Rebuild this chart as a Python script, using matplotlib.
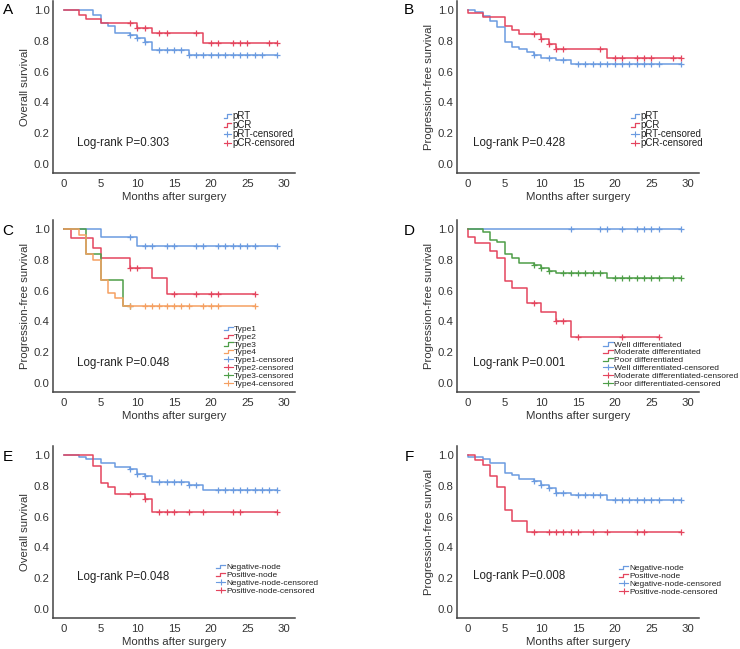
import numpy as np
import matplotlib
matplotlib.use("Agg")
import matplotlib.pyplot as plt
from matplotlib.lines import Line2D
from matplotlib.legend_handler import HandlerBase

plt.rcParams['font.family'] = ['Liberation Sans', 'DejaVu Sans']

# ---- data: step times, survival, last follow-up, censor times ----
# A  overall survival, pRT vs pCR
a_prt_t = [0, 4, 5, 6, 7, 9, 10, 11, 12, 17]
a_prt_s = [1.0, 0.972, 0.914, 0.897, 0.854, 0.839, 0.82, 0.79, 0.738, 0.71]
a_prt_c = [9, 10, 11, 13, 14, 15, 16, 17, 18, 19, 20, 21, 22, 23, 24, 25, 26, 27, 29]
a_pcr_t = [0, 2, 3, 5, 10, 12, 19]
a_pcr_s = [1.0, 0.972, 0.94, 0.914, 0.882, 0.849, 0.785]
a_pcr_c = [9, 10, 11, 13, 14, 18, 20, 21, 23, 24, 25, 28, 29]

# B  progression-free survival, pRT vs pCR
b_prt_t = [0, 1, 2, 3, 4, 5, 6, 7, 8, 9, 10, 12, 14]
b_prt_s = [1.0, 0.986, 0.96, 0.93, 0.89, 0.79, 0.76, 0.75, 0.73, 0.706, 0.69, 0.673, 0.647]
b_prt_c = [9, 11, 13, 15, 16, 17, 18, 19, 20, 21, 22, 23, 24, 25, 26, 29]
b_pcr_t = [0, 0, 2, 5, 6, 7, 10, 11, 12, 19]
b_pcr_s = [1.0, 0.98, 0.958, 0.90, 0.87, 0.847, 0.815, 0.78, 0.75, 0.686]
b_pcr_c = [9, 10, 11, 12, 13, 18, 20, 21, 23, 24, 25, 28, 29]

# C  PFS by type
c_t1_t = [0, 5, 10]
c_t1_s = [1.0, 0.95, 0.89]
c_t1_c = [9, 11, 12, 14, 15, 18, 19, 21, 22, 23, 24, 25, 26, 29]
c_t2_t = [0, 1, 4, 5, 9, 12, 14]
c_t2_s = [1.0, 0.94, 0.876, 0.815, 0.75, 0.68, 0.58]
c_t2_c = [9, 10, 15, 18, 20, 21, 26]
c_t3_t = [0, 3, 5, 8]
c_t3_s = [1.0, 0.837, 0.667, 0.5]
c_t3_c = [9]
c_t4_t = [0, 2, 3, 4, 5, 6, 7, 8]
c_t4_s = [1.0, 0.96, 0.837, 0.8, 0.667, 0.587, 0.55, 0.5]
c_t4_c = [9, 11, 12, 13, 14, 15, 16, 17, 19, 20, 21, 26]

# D  PFS by differentiation
d_well_t = [0]
d_well_s = [1.0]
d_well_c = [14, 18, 19, 21, 23, 24, 25, 26, 29]
d_mod_t = [0, 0, 1, 3, 4, 5, 6, 8, 10, 12, 14]
d_mod_s = [1.0, 0.95, 0.91, 0.86, 0.81, 0.665, 0.617, 0.52, 0.46, 0.405, 0.30]
d_mod_c = [9, 12, 13, 15, 21, 26]
d_poor_t = [0, 2, 3, 4, 5, 6, 7, 9, 10, 11, 12, 19]
d_poor_s = [1.0, 0.98, 0.93, 0.915, 0.84, 0.81, 0.78, 0.77, 0.75, 0.73, 0.714, 0.68]
d_poor_c = [9, 10, 11, 13, 14, 15, 16, 17, 18, 20, 21, 22, 23, 24, 25, 26, 28, 29]

# E  OS by node status
e_neg_t = [0, 2, 3, 5, 7, 9, 10, 11, 12, 17, 19]
e_neg_s = [1.0, 0.99, 0.978, 0.948, 0.92, 0.909, 0.876, 0.863, 0.828, 0.806, 0.774]
e_neg_c = [9, 10, 11, 13, 14, 15, 16, 17, 18, 21, 22, 23, 24, 25, 26, 27, 28, 29]
e_pos_t = [0, 4, 5, 6, 7, 11, 12]
e_pos_s = [1.0, 0.93, 0.817, 0.79, 0.75, 0.713, 0.633]
e_pos_c = [9, 11, 13, 14, 15, 17, 19, 23, 24, 29]

# F  PFS by node status
f_neg_t = [0, 0, 2, 3, 5, 6, 7, 9, 10, 11, 12, 14, 19]
f_neg_s = [1.0, 0.99, 0.978, 0.952, 0.887, 0.874, 0.843, 0.83, 0.804, 0.787, 0.754, 0.739, 0.707]
f_neg_c = [9, 10, 11, 12, 13, 15, 16, 17, 18, 20, 21, 22, 23, 24, 25, 26, 28, 29]
f_pos_t = [0, 1, 2, 3, 4, 5, 6, 8]
f_pos_s = [1.0, 0.967, 0.935, 0.865, 0.79, 0.645, 0.572, 0.5]
f_pos_c = [9, 11, 12, 13, 14, 15, 17, 19, 23, 24, 29]

p_values = ['0.303', '0.428', '0.048', '0.001', '0.048', '0.008']
panel_tags = ['A', 'B', 'C', 'D', 'E', 'F']
y_titles = ['Overall survival', 'Progression-free survival', 'Progression-free survival',
            'Progression-free survival', 'Overall survival', 'Progression-free survival']
x_title = 'Months after surgery'

BLUE = '#6b9be0'
RED = '#e4455e'
GREEN = '#4e9e48'
ORANGE = '#f5a062'


# little step icon for the legend, like the SPSS output
class StepHandler(HandlerBase):
    def create_artists(self, legend, orig_handle, xdescent, ydescent, width, height, fontsize, trans):
        x0 = -xdescent
        xs = [x0, x0 + width * 0.45, x0 + width * 0.45, x0 + width]
        y0 = -ydescent + height * 0.15
        y1 = -ydescent + height * 0.7
        ln = Line2D(xs, [y0, y0, y1, y1], color=orig_handle.get_color(), lw=0.9)
        ln.set_transform(trans)
        return [ln]


def surv_at(t, s, x):
    idx = np.searchsorted(t, x, side='right') - 1
    return np.asarray(s)[idx]


def km(ax, t, s, cens, end, color):
    t = np.array(t, dtype=float)
    s = np.array(s, dtype=float)
    ax.step(np.append(t, end), np.append(s, s[-1]), where='post', color=color, lw=1.1)
    cens = np.array(cens, dtype=float)
    ax.plot(cens, surv_at(t, s, cens), ls='none', marker='+', ms=4.5, mew=0.9, color=color)


fig = plt.figure(figsize=(7.4, 6.49), dpi=100)
lefts = [0.0716, 0.6176]
bottoms = [0.7334, 0.396, 0.0478]
W, H = 0.327, 0.265

# per-panel series: (t, s, cens, end, colour, label)
series = [
    [(a_prt_t, a_prt_s, a_prt_c, 29, BLUE, 'pRT'), (a_pcr_t, a_pcr_s, a_pcr_c, 29, RED, 'pCR')],
    [(b_prt_t, b_prt_s, b_prt_c, 29, BLUE, 'pRT'), (b_pcr_t, b_pcr_s, b_pcr_c, 29, RED, 'pCR')],
    [(c_t1_t, c_t1_s, c_t1_c, 29, BLUE, 'Type1'), (c_t2_t, c_t2_s, c_t2_c, 26, RED, 'Type2'),
     (c_t3_t, c_t3_s, c_t3_c, 9, GREEN, 'Type3'), (c_t4_t, c_t4_s, c_t4_c, 26, ORANGE, 'Type4')],
    [(d_well_t, d_well_s, d_well_c, 29, BLUE, 'Well differentiated'),
     (d_mod_t, d_mod_s, d_mod_c, 26, RED, 'Moderate differentiated'),
     (d_poor_t, d_poor_s, d_poor_c, 29, GREEN, 'Poor differentiated')],
    [(e_neg_t, e_neg_s, e_neg_c, 29, BLUE, 'Negative-node'), (e_pos_t, e_pos_s, e_pos_c, 29, RED, 'Positive-node')],
    [(f_neg_t, f_neg_s, f_neg_c, 29, BLUE, 'Negative-node'), (f_pos_t, f_pos_s, f_pos_c, 29, RED, 'Positive-node')],
]

# legend anchor (axes fraction, lower left), legend font, handle length, log-rank text spot
leg_pos = [(0.705, 0.145), (0.72, 0.145), (0.705, 0.025), (0.605, 0.025), (0.675, 0.135), (0.67, 0.13)]
leg_fs = [7.0, 7.0, 6.0, 6.0, 6.0, 6.0]
leg_hl = [0.75, 0.75, 1.1, 1.1, 1.1, 1.1]
leg_sp = [-0.1, -0.1, 0.0, 0.0, 0.0, 0.0]
txt_pos = [(0.10, 0.174), (0.066, 0.174), (0.10, 0.169), (0.066, 0.169), (0.10, 0.238), (0.066, 0.244)]

for i in range(6):
    r, c = divmod(i, 2)
    ax = fig.add_axes([lefts[c], bottoms[r], W, H])
    for (t, s, cens, end, col, lab) in series[i]:
        km(ax, t, s, cens, end, col)

    ax.set_xlim(-1.5, 31.5)
    ax.set_ylim(-0.06, 1.06)
    ax.set_xticks(np.arange(0, 31, 5))
    ax.set_yticks(np.arange(0, 1.01, 0.2))
    ax.set_yticklabels(['%.1f' % v for v in np.arange(0, 1.01, 0.2)])
    for sp in ['top', 'right']:
        ax.spines[sp].set_visible(False)
    for sp in ['left', 'bottom']:
        ax.spines[sp].set_color('#444444')
        ax.spines[sp].set_linewidth(1.1)
    ax.tick_params(axis='both', length=0, labelsize=8.2, labelcolor='#333333')
    ax.tick_params(axis='x', pad=4.5)
    ax.tick_params(axis='y', pad=2.5)
    ax.set_xlabel(x_title, fontsize=8.2, color='#333333')
    ax.set_ylabel(y_titles[i], fontsize=8.2, color='#333333')
    ax.xaxis.set_label_coords(0.5, -0.113)
    ax.yaxis.set_label_coords(-0.095, 0.5)

    ax.text(txt_pos[i][0], txt_pos[i][1], 'Log-rank P=' + p_values[i], transform=ax.transAxes,
            fontsize=8.3, va='center', ha='left', color='#222222')

    # legend: step lines first, then the censored crosses
    step_h = [Line2D([], [], color=col) for (_, _, _, _, col, _) in series[i]]
    cens_h = [Line2D([], [], color=col, lw=0.8, marker='+', ms=5, mew=0.8) for (_, _, _, _, col, _) in series[i]]
    labels = [lab for (*_, lab) in series[i]] + [lab + '-censored' for (*_, lab) in series[i]]
    ax.legend(step_h + cens_h, labels, handler_map={h: StepHandler() for h in step_h},
              loc='lower left', bbox_to_anchor=leg_pos[i], frameon=False, fontsize=leg_fs[i],
              handlelength=leg_hl[i], handletextpad=0.15, labelspacing=leg_sp[i], borderpad=0,
              borderaxespad=0, numpoints=1, labelcolor='#222222')

    fig.text([8, 409][c] / 740, 1 - [10, 231, 457][r] / 649, panel_tags[i], fontsize=11,
             ha='center', va='center')

fig.savefig('out.png', dpi=100)
